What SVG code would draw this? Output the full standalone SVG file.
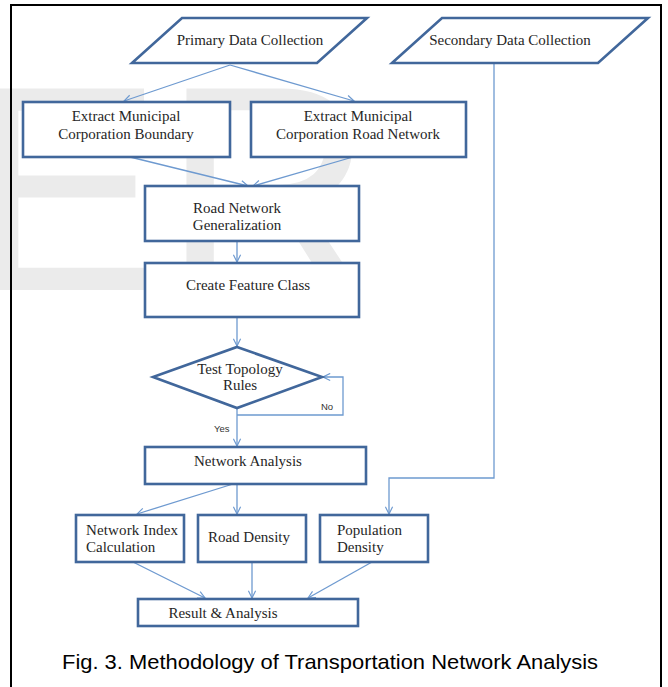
<svg xmlns="http://www.w3.org/2000/svg" width="668" height="687" viewBox="0 0 668 687">
<defs>
<style>
.node{fill:#fff;stroke:#41679b;stroke-width:2.6}
.t{font-family:"Liberation Serif","Times New Roman",serif;font-size:15px;fill:#262626}
.c{text-anchor:middle}
.conn{fill:none;stroke:#6e9ad0;stroke-width:1.3}
.lbl{font-family:"Liberation Sans",Arial,sans-serif;font-size:9.5px;fill:#333}
</style>
<marker id="ah" viewBox="0 0 10 10" refX="9" refY="5" markerWidth="9" markerHeight="9" markerUnits="userSpaceOnUse" orient="auto">
<path d="M1,1 L9,5 L1,9" fill="none" stroke="#6e9ad0" stroke-width="1.3"/>
</marker>
</defs>
<rect x="0" y="0" width="668" height="687" fill="#fff"/>
<text x="-33" y="290" font-family="Liberation Sans, Arial, sans-serif" font-size="293" fill="#ebebeb">ER</text>
<path d="M11,687 V5 H661 V687" fill="none" stroke="#000" stroke-width="2"/>

<g id="connectors">
<path class="conn" d="M230,65 L124,101" marker-end="url(#ah)"/>
<path class="conn" d="M230,65 L354,101" marker-end="url(#ah)"/>
<path class="conn" d="M130,157 L248,186" marker-end="url(#ah)"/>
<path class="conn" d="M353,157 L253,186" marker-end="url(#ah)"/>
<path class="conn" d="M237,241 L237,262" marker-end="url(#ah)"/>
<path class="conn" d="M237,317 L237,346" marker-end="url(#ah)"/>
<path class="conn" d="M237,408 L237,446" marker-end="url(#ah)"/>
<path class="conn" d="M237,415 H343 V377 H323" marker-end="url(#ah)"/>
<path class="conn" d="M494,63 V478 H389 V514" marker-end="url(#ah)"/>
<path class="conn" d="M233,484 L137,514" marker-end="url(#ah)"/>
<path class="conn" d="M237,484 L237,514" marker-end="url(#ah)"/>
<path class="conn" d="M133,562 L205,598" marker-end="url(#ah)"/>
<path class="conn" d="M252,562 L252,598" marker-end="url(#ah)"/>
<path class="conn" d="M372,562 L308,598" marker-end="url(#ah)"/>
<text class="lbl" x="321" y="410">No</text>
<text class="lbl" x="214" y="432">Yes</text>
</g>

<g id="primary">
<polygon class="node" points="182,18 367,18 317,63 132,63"/>
<text class="t c" x="250" y="45">Primary  Data Collection</text>
</g>
<g id="secondary">
<polygon class="node" points="442,18 648,18 598,63 392,63"/>
<text class="t c" x="510" y="45">Secondary Data Collection</text>
</g>
<g id="boundary">
<rect class="node" x="23" y="102" width="207" height="55"/>
<text class="t c" x="126" y="121">Extract  Municipal</text>
<text class="t c" x="126" y="139">Corporation Boundary</text>
</g>
<g id="roadnet">
<rect class="node" x="251" y="102" width="215" height="55"/>
<text class="t c" x="358" y="121">Extract  Municipal</text>
<text class="t c" x="358" y="139">Corporation Road Network</text>
</g>
<g id="generalization">
<rect class="node" x="145" y="186" width="214" height="55"/>
<text class="t c" x="237" y="213">Road Network</text>
<text class="t c" x="237" y="230">Generalization</text>
</g>
<g id="feature">
<rect class="node" x="145" y="263" width="214" height="54"/>
<text class="t c" x="248" y="290">Create Feature Class</text>
</g>
<g id="topology">
<polygon class="node" points="237,347 322,377 237,408 153,377"/>
<text class="t c" x="240" y="374">Test Topology</text>
<text class="t c" x="240" y="390">Rules</text>
</g>
<g id="analysis">
<rect class="node" x="145" y="447" width="221" height="37"/>
<text class="t c" x="248" y="466">Network Analysis</text>
</g>
<g id="index">
<rect class="node" x="76" y="515" width="108" height="47"/>
<text class="t" x="86" y="535" textLength="92" lengthAdjust="spacing">Network Index</text>
<text class="t" x="86" y="552">Calculation</text>
</g>
<g id="roaddensity">
<rect class="node" x="198" y="515" width="108" height="47"/>
<text class="t c" x="249" y="542">Road Density</text>
</g>
<g id="population">
<rect class="node" x="320" y="515" width="108" height="47"/>
<text class="t" x="337" y="535">Population</text>
<text class="t" x="337" y="552">Density</text>
</g>
<g id="result">
<rect class="node" x="138" y="599" width="220" height="27"/>
<text class="t c" x="223" y="618">Result &amp; Analysis</text>
</g>
<text x="62" y="669" font-family="Liberation Sans, Arial, sans-serif" font-size="21" textLength="536" lengthAdjust="spacingAndGlyphs" fill="#000">Fig. 3. Methodology of Transportation Network Analysis</text>
</svg>
